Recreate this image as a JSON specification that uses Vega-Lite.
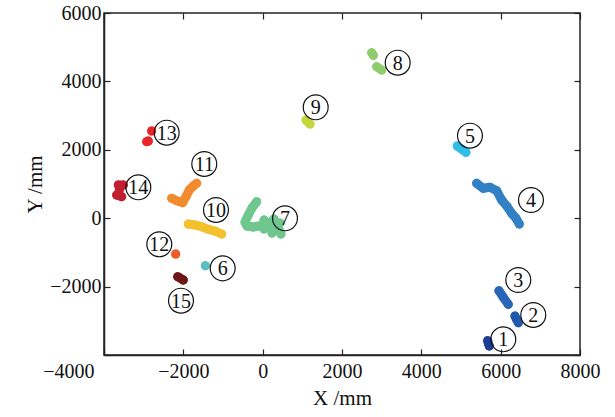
{
  "$schema": "https://vega.github.io/schema/vega-lite/v6.json",
  "width": 476,
  "height": 342,
  "autosize": {"type": "none"},
  "padding": {"left": 104, "top": 13, "right": 35, "bottom": 62},
  "background": "white",
  "config": {
    "view": {"stroke": "#222", "strokeWidth": 1.5},
    "font": "Liberation Serif, Times New Roman, serif",
    "axis": {"grid": false, "domainColor": "#222", "domainWidth": 1.5, "tickColor": "#222", "tickWidth": 1.2, "labelFont": "Liberation Serif, Times New Roman, serif", "labelFontSize": 20, "labelColor": "#111", "titleFont": "Liberation Serif, Times New Roman, serif", "titleFontSize": 21, "titleFontWeight": "normal", "titleColor": "#111"}
  },
  "datasets": {
    "pts": [
      {"cluster": "1", "seg": "1", "o": 1, "x": 5672, "y": -3582},
      {"cluster": "1", "seg": "1", "o": 2, "x": 5690, "y": -3660},
      {"cluster": "1", "seg": "1", "o": 3, "x": 5713, "y": -3737},
      {"cluster": "2", "seg": "2", "o": 1, "x": 6360, "y": -2860},
      {"cluster": "2", "seg": "2", "o": 2, "x": 6400, "y": -2960},
      {"cluster": "2", "seg": "2", "o": 3, "x": 6444, "y": -3056},
      {"cluster": "3", "seg": "3", "o": 1, "x": 5957, "y": -2120},
      {"cluster": "3", "seg": "3", "o": 2, "x": 6070, "y": -2320},
      {"cluster": "3", "seg": "3", "o": 3, "x": 6192, "y": -2518},
      {"cluster": "4", "seg": "4", "o": 1, "x": 5395, "y": 1020},
      {"cluster": "4", "seg": "4", "o": 2, "x": 5561, "y": 874},
      {"cluster": "4", "seg": "4", "o": 3, "x": 5730, "y": 904},
      {"cluster": "4", "seg": "4", "o": 4, "x": 5899, "y": 804},
      {"cluster": "4", "seg": "4", "o": 5, "x": 6025, "y": 532},
      {"cluster": "4", "seg": "4", "o": 6, "x": 6166, "y": 336},
      {"cluster": "4", "seg": "4", "o": 7, "x": 6277, "y": 143},
      {"cluster": "4", "seg": "4", "o": 8, "x": 6386, "y": -3},
      {"cluster": "4", "seg": "4", "o": 9, "x": 6469, "y": -170},
      {"cluster": "5", "seg": "5", "o": 1, "x": 4906, "y": 2111},
      {"cluster": "5", "seg": "5", "o": 2, "x": 5015, "y": 2020},
      {"cluster": "5", "seg": "5", "o": 3, "x": 5125, "y": 1927},
      {"cluster": "6", "seg": "6", "o": 1, "x": -1446, "y": -1389},
      {"cluster": "7", "seg": "7a", "o": 1, "x": -151, "y": 482},
      {"cluster": "7", "seg": "7a", "o": 2, "x": -269, "y": 298},
      {"cluster": "7", "seg": "7a", "o": 3, "x": -362, "y": 94},
      {"cluster": "7", "seg": "7a", "o": 4, "x": -445, "y": -111},
      {"cluster": "7", "seg": "7a", "o": 5, "x": -395, "y": -228},
      {"cluster": "7", "seg": "7a", "o": 6, "x": -244, "y": -257},
      {"cluster": "7", "seg": "7a", "o": 7, "x": -92, "y": -228},
      {"cluster": "7", "seg": "7b", "o": 1, "x": 34, "y": -53},
      {"cluster": "7", "seg": "7b", "o": 2, "x": 235, "y": -345},
      {"cluster": "7", "seg": "7c", "o": 1, "x": 34, "y": -316},
      {"cluster": "7", "seg": "7c", "o": 2, "x": 235, "y": -82},
      {"cluster": "7", "seg": "7d", "o": 1, "x": 286, "y": -23},
      {"cluster": "7", "seg": "7d", "o": 2, "x": 462, "y": -462},
      {"cluster": "7", "seg": "7e", "o": 1, "x": 235, "y": -433},
      {"cluster": "7", "seg": "7e", "o": 2, "x": 437, "y": -140},
      {"cluster": "8", "seg": "8a", "o": 1, "x": 2748, "y": 4839},
      {"cluster": "8", "seg": "8a", "o": 2, "x": 2790, "y": 4760},
      {"cluster": "8", "seg": "8b", "o": 1, "x": 2874, "y": 4430},
      {"cluster": "8", "seg": "8b", "o": 2, "x": 3000, "y": 4333},
      {"cluster": "9", "seg": "9", "o": 1, "x": 1092, "y": 2871},
      {"cluster": "9", "seg": "9", "o": 2, "x": 1150, "y": 2804},
      {"cluster": "9", "seg": "9", "o": 3, "x": 1193, "y": 2754},
      {"cluster": "10", "seg": "10", "o": 1, "x": -1875, "y": -170},
      {"cluster": "10", "seg": "10", "o": 2, "x": -1706, "y": -199},
      {"cluster": "10", "seg": "10", "o": 3, "x": -1537, "y": -249},
      {"cluster": "10", "seg": "10", "o": 4, "x": -1371, "y": -325},
      {"cluster": "10", "seg": "10", "o": 5, "x": -1202, "y": -374},
      {"cluster": "10", "seg": "10", "o": 6, "x": -1033, "y": -462},
      {"cluster": "11", "seg": "11", "o": 1, "x": -2293, "y": 582},
      {"cluster": "11", "seg": "11", "o": 2, "x": -2167, "y": 512},
      {"cluster": "11", "seg": "11", "o": 3, "x": -2016, "y": 453},
      {"cluster": "11", "seg": "11", "o": 4, "x": -1933, "y": 629},
      {"cluster": "11", "seg": "11", "o": 5, "x": -1850, "y": 825},
      {"cluster": "11", "seg": "11", "o": 6, "x": -1749, "y": 942},
      {"cluster": "11", "seg": "11", "o": 7, "x": -1663, "y": 1020},
      {"cluster": "12", "seg": "12", "o": 1, "x": -2193, "y": -1047},
      {"cluster": "13", "seg": "13a", "o": 1, "x": -2798, "y": 2550},
      {"cluster": "13", "seg": "13b", "o": 1, "x": -2883, "y": 2257},
      {"cluster": "13", "seg": "13b", "o": 2, "x": -2924, "y": 2237},
      {"cluster": "14", "seg": "14a", "o": 1, "x": -3640, "y": 971},
      {"cluster": "14", "seg": "14a", "o": 2, "x": -3513, "y": 971},
      {"cluster": "14", "seg": "14b", "o": 1, "x": -3614, "y": 825},
      {"cluster": "14", "seg": "14c", "o": 1, "x": -3680, "y": 678},
      {"cluster": "14", "seg": "14c", "o": 2, "x": -3554, "y": 629},
      {"cluster": "15", "seg": "15", "o": 1, "x": -2142, "y": -1711},
      {"cluster": "15", "seg": "15", "o": 2, "x": -2001, "y": -1807}
    ],
    "labs": [
      {"label": "1", "x": 6066, "y": -3541},
      {"label": "2", "x": 6822, "y": -2830},
      {"label": "3", "x": 6444, "y": -1807},
      {"label": "4", "x": 6764, "y": 532},
      {"label": "5", "x": 5226, "y": 2412},
      {"label": "6", "x": -1008, "y": -1466},
      {"label": "7", "x": 563, "y": -3},
      {"label": "8", "x": 3404, "y": 4547},
      {"label": "9", "x": 1337, "y": 3243},
      {"label": "10", "x": -1177, "y": 240},
      {"label": "11", "x": -1472, "y": 1585},
      {"label": "12", "x": -2606, "y": -763},
      {"label": "13", "x": -2420, "y": 2500},
      {"label": "14", "x": -3135, "y": 904},
      {"label": "15", "x": -2059, "y": -2412}
    ]
  },
  "resolve": {"axis": {"x": "independent", "y": "independent"}},
  "layer": [
    {
      "data": {"name": "pts"},
      "mark": {"type": "line", "strokeWidth": 9, "strokeCap": "round", "strokeJoin": "round"},
      "encoding": {
        "x": {"field": "x", "type": "quantitative", "scale": {"domain": [-4000, 8000], "nice": false}, "axis": {"orient": "bottom", "values": [-4000, -2000, 0, 2000, 4000, 6000, 8000], "title": "X /mm", "tickSize": -6, "labelPadding": 12, "titlePadding": 6, "format": "d", "labelAlign": {"condition": {"test": "datum.value == -4000", "value": "right"}, "value": "center"}, "labelOffset": {"condition": {"test": "datum.value == -4000", "value": -10}, "value": 0}}},
        "y": {"field": "y", "type": "quantitative", "scale": {"domain": [-4000, 6000], "nice": false}, "axis": {"orient": "left", "values": [-4000, -2000, 0, 2000, 4000, 6000], "title": "Y /mm", "tickSize": -6, "labelPadding": 9, "titlePadding": 4, "format": "d", "labelExpr": "datum.value == -4000 ? '' : datum.label"}},
        "color": {"field": "cluster", "type": "nominal", "legend": null, "scale": {"domain": ["1","2","3","4","5","6","7","8","9","10","11","12","13","14","15"], "range": ["#1c3f94","#2159ad","#2a66b8","#3380c4","#30bde8","#5cbfbf","#6fc78f","#8fcc6e","#c5d63d","#f2c12e","#f28a2e","#ef5a2a","#e8262a","#c22030","#6e1515"]}},
        "detail": {"field": "seg"},
        "order": {"field": "o", "type": "quantitative"}
      }
    },
    {
      "data": {"name": "pts"},
      "mark": {"type": "circle", "size": 80, "opacity": 1},
      "encoding": {
        "x": {"field": "x", "type": "quantitative", "axis": {"orient": "top", "values": [-4000, -2000, 0, 2000, 4000, 6000, 8000], "labels": false, "title": null, "domain": false, "tickSize": -6}},
        "y": {"field": "y", "type": "quantitative", "axis": {"orient": "right", "values": [-4000, -2000, 0, 2000, 4000, 6000], "labels": false, "title": null, "domain": false, "tickSize": -6}},
        "color": {"field": "cluster", "type": "nominal", "legend": null}
      }
    },
    {
      "data": {"name": "labs"},
      "mark": {"type": "point", "shape": "circle", "filled": false, "size": 620, "stroke": "#111", "strokeWidth": 1.2, "opacity": 1},
      "encoding": {
        "x": {"field": "x", "type": "quantitative", "axis": null},
        "y": {"field": "y", "type": "quantitative", "axis": null}
      }
    },
    {
      "data": {"name": "labs"},
      "mark": {"type": "text", "font": "Liberation Serif, Times New Roman, serif", "fontSize": 20, "color": "#111", "align": "center", "baseline": "middle", "dy": 1},
      "encoding": {
        "x": {"field": "x", "type": "quantitative", "axis": null},
        "y": {"field": "y", "type": "quantitative", "axis": null},
        "text": {"field": "label"}
      }
    }
  ]
}
